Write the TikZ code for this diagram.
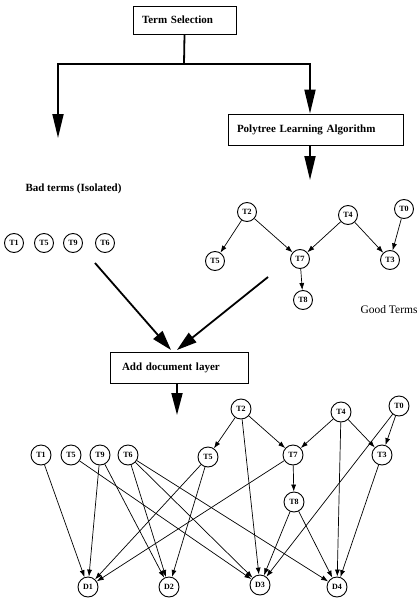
\documentclass[tikz,border=0pt]{standalone}
\usepackage{fontspec}
\setmainfont{Liberation Serif}
\usetikzlibrary{arrows.meta}
\begin{document}
\begin{tikzpicture}[x=1pt,y=-1pt,
  box/.style={draw,line width=0.8pt,inner xsep=9pt,inner ysep=0pt,align=left,font=\bfseries\fontsize{11}{12}\selectfont},
  tnode/.style={draw,circle,line width=0.9pt,minimum size=20pt,inner sep=0pt,font=\bfseries\fontsize{8}{9}\selectfont},
  bigarrow/.style={line width=1.8pt,-{Triangle[length=24pt,width=11pt]}},
  edge/.style={line width=0.7pt,-{Latex[length=7pt,width=5pt]}},
  lbl/.style={font=\bfseries\fontsize{11}{12}\selectfont}]
\useasboundingbox (0,0) rectangle (417,602);
% boxes
\node[box,minimum height=28pt,text width=85pt] (ts) at (184.5,20) {Term Selection};
\node[box,minimum height=31pt,text width=157pt] (plb) at (315.5,129.5) {Polytree Learning Algorithm};
\node[box,minimum height=31pt,text width=114pt,inner xsep=12pt] (adl) at (179,367.5) {Add document layer};
\coordinate (jM) at (184,64);
\coordinate (bt) at (58,138);
\coordinate (jR) at (310,64);
\coordinate (pe) at (310,180);
\draw[line width=1.8pt] (ts.south) -- (jM);
\draw[bigarrow] (jM) -| (bt);
\draw[bigarrow] (jM) -| (jR |- plb.north);
\draw[bigarrow] (jR |- plb.south) -- (pe);
\node[lbl,anchor=west] (bad) at (22,189) {Bad terms (Isolated)};
\node[font=\fontsize{11.5}{12}\selectfont,anchor=west] (good) at (357,310) {Good Terms};
% isolated terms
\node[tnode,minimum size=19pt] (i1) at (14,243) {T1};
\node[tnode,minimum size=19pt] (i5) at (44,243) {T5};
\node[tnode,minimum size=19pt] (i9) at (73,243) {T9};
\node[tnode,minimum size=19pt] (i6) at (105,243) {T6};
% polytree
\node[tnode,minimum size=19pt] (p2) at (247,212) {T2};
\node[tnode,minimum size=19pt] (p4) at (348,215) {T4};
\node[tnode,minimum size=19pt] (p0) at (404,209) {T0};
\node[tnode,minimum size=19pt] (p5) at (215,261) {T5};
\node[tnode,minimum size=19pt] (p7) at (300,259) {T7};
\node[tnode,minimum size=19pt] (p3) at (390,260) {T3};
\node[tnode,minimum size=19pt] (p8) at (303,300) {T8};
\draw[edge] (p2) -- (p5);
\draw[edge] (p2) -- (p7);
\draw[edge] (p4) -- (p7);
\draw[edge] (p4) -- (p3);
\draw[edge] (p0) -- (p3);
\draw[edge] (p7) -- (p8);
% merge arrows
\coordinate (a1s) at (95,263);
\coordinate (a1e) at (171,350);
\coordinate (a2s) at (268,277);
\coordinate (a2e) at (177,350);
\draw[line width=1.8pt,-{Triangle[length=20pt,width=12pt]}] (a1s) -- (a1e);
\draw[line width=1.8pt,-{Triangle[length=20pt,width=12pt]}] (a2s) -- (a2e);
\coordinate (ae) at (177,415);
\draw[line width=1.8pt,-{Triangle[length=22pt,width=11pt]}] (adl.south -| ae) -- (ae);
% bottom network
\node[tnode] (b2) at (241,409) {T2};
\node[tnode] (b4) at (341,412) {T4};
\node[tnode] (b0) at (399,406) {T0};
\node[tnode] (b1) at (41,455) {T1};
\node[tnode] (b5a) at (71,455) {T5};
\node[tnode] (b9) at (100,455) {T9};
\node[tnode] (b6) at (128,455) {T6};
\node[tnode] (b5b) at (208,457) {T5};
\node[tnode] (b7) at (293,455) {T7};
\node[tnode] (b3) at (382,455) {T3};
\node[tnode] (b8) at (294,502) {T8};
\node[tnode] (d1) at (88,587) {D1};
\node[tnode] (d2) at (169,587) {D2};
\node[tnode] (d3) at (260,585) {D3};
\node[tnode] (d4) at (337,587) {D4};
\draw[edge] (b2) -- (b5b);
\draw[edge] (b2) -- (b7);
\draw[edge] (b2) -- (d3);
\draw[edge] (b4) -- (b7);
\draw[edge] (b4) -- (b3);
\draw[edge] (b4) -- (d4);
\draw[edge] (b0) -- (b3);
\draw[edge] (b0) -- (d3);
\draw[edge] (b7) -- (b8);
\draw[edge] (b7) -- (d1);
\draw[edge] (b1) -- (d1);
\draw[edge] (b5a) -- (d3);
\draw[edge] (b9) -- (d1);
\draw[edge] (b9) -- (d2);
\draw[edge] (b6) -- (d2);
\draw[edge] (b6) -- (d3);
\draw[edge] (b6) -- (d4);
\draw[edge] (b5b) -- (d1);
\draw[edge] (b5b) -- (d2);
\draw[edge] (b8) -- (d3);
\draw[edge] (b8) -- (d4);
\draw[edge] (b3) -- (d4);
\end{tikzpicture}
\end{document}
